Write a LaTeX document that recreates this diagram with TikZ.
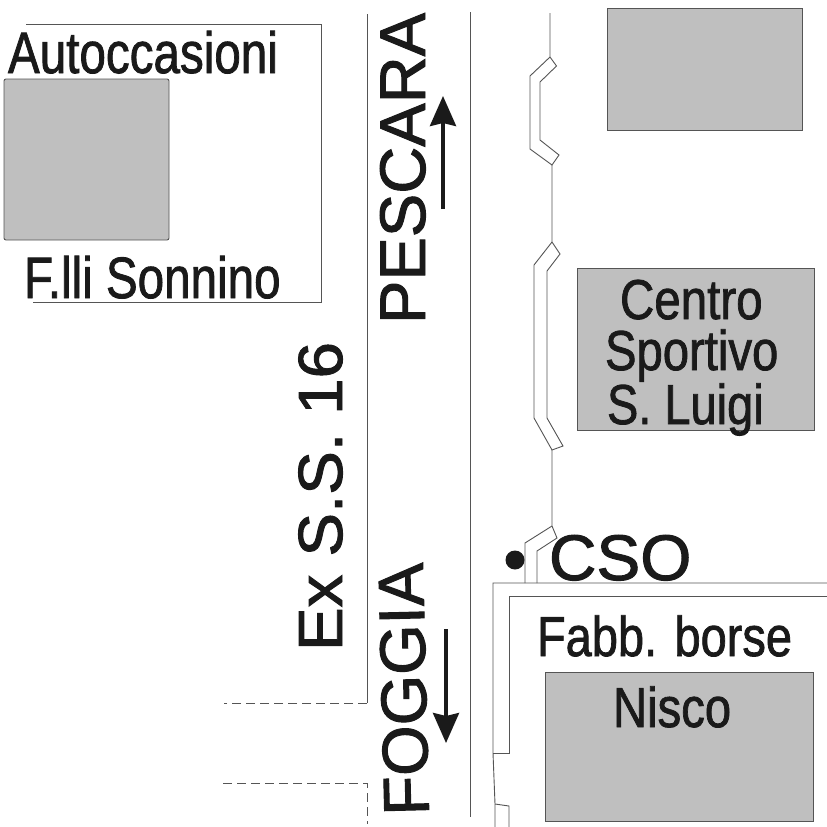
\documentclass[tikz,border=0pt]{standalone}
\usepackage{fontspec}
\setmainfont[FakeBold=1.5]{Liberation Sans}
\usetikzlibrary{arrows.meta}
\definecolor{bldg}{HTML}{BFBFBF}
\definecolor{ink}{HTML}{1A1A1A}
\definecolor{ln}{HTML}{555555}
\newcommand{\lbl}[3]{\fontsize{#1}{#1}\selectfont\scalebox{#2}[1.04]{#3}}
\tikzset{
 x=1pt,y=-1pt,
 bldg/.style={draw=ln,fill=bldg,line width=0.9pt},
 road/.style={draw=ln,line width=0.9pt,line join=miter},
 roaddash/.style={road,dash pattern=on 9pt off 5pt},
 txt/.style={inner sep=0pt,outer sep=0pt,text=ink,anchor=base west},
 rtxt/.style={txt,rotate=90},
 dirarrow/.style={draw=ink,line width=3.6pt,-{Stealth[length=30pt,width=26pt,inset=3pt]}}
}
\begin{document}
\begin{tikzpicture}
\useasboundingbox (0,0) rectangle (827,827);
\fill[white] (0,0) rectangle (827,827);
% buildings
\draw[bldg] (607,8) rectangle (802,130);
\draw[bldg] (577,268) rectangle (814,430);
\draw[bldg] (545,672) rectangle (813,821);
\draw[bldg,rounded corners=2pt] (4,79) rectangle (169,240);
% plot outline
\draw[road] (26,24) -- (321,24) -- (321,302) -- (33,302);
% road edges
\draw[road] (367,14) -- (367,703);
\draw[roaddash] (367,703) -- (224,703);
\draw[roaddash] (223,783) -- (367,783) -- (367,824);
\draw[road] (470,12) -- (470,817);
% right path
\draw[road] (550,13) -- (550,57) -- (530,76) -- (530,149) -- (552,165) -- (559,155) -- (540,140) -- (540,82) -- (556.5,66) -- (550,57);
\draw[road] (552,165) -- (552,242) -- (534,265) -- (534,418) -- (552,450) -- (563,446) -- (547,418) -- (547,271) -- (560,254) -- (552,242);
\draw[road] (552,450) -- (552,526) -- (525,543) -- (525,583);
\draw[road] (552,526) -- (557,538) -- (537,551) -- (537,583);
% lower block
\draw[road] (827,583) -- (493,583) -- (493,753) -- (495,804) -- (495,827);
\draw[road] (827,596) -- (509,596) -- (509,753) -- (493,753);
\draw[road] (495,804) -- (509,806) -- (509,827);
% dot
\fill[ink] (515,560) circle (9.5);
% arrows
\coordinate (upa) at (443,209); \coordinate (upb) at (443,96);
\coordinate (dna) at (446,629); \coordinate (dnb) at (446,743);
\draw[dirarrow] (upa) -- (upb);
\draw[dirarrow] (dna) -- (dnb);
% labels
\node[txt] (auto) at (8,73) {\lbl{56}{.85}{Autoccasioni}};
\node[txt] (flli) at (24,298) {\lbl{56}{.85}{F.lli Sonnino}};
\node[rtxt] (pesc) at (425,324) {\lbl{62}{1.05}{PESCARA}};
\node[rtxt] (exss) at (342,651) {\lbl{60}{1.09}{Ex S.S. 16}};
\node[txt,rotate=91.4] (fogg) at (429,815) {\lbl{62}{1.047}{FOGGIA}};
\node[txt] (cent) at (620,319) {\lbl{54}{.88}{Centro}};
\node[txt] (spor) at (605,370) {\lbl{54}{.875}{Sportivo}};
\node[txt] (luig) at (607,424) {\lbl{54}{.87}{S. Luigi}};
\node[txt] (cso) at (549,580) {\lbl{62}{1.06}{CSO}};
\node[txt] (fabb) at (537,656) {\lbl{54}{.87}{Fabb. borse}};
\node[txt] (nisc) at (613,727) {\lbl{54}{.875}{Nisco}};
\end{tikzpicture}
\end{document}
